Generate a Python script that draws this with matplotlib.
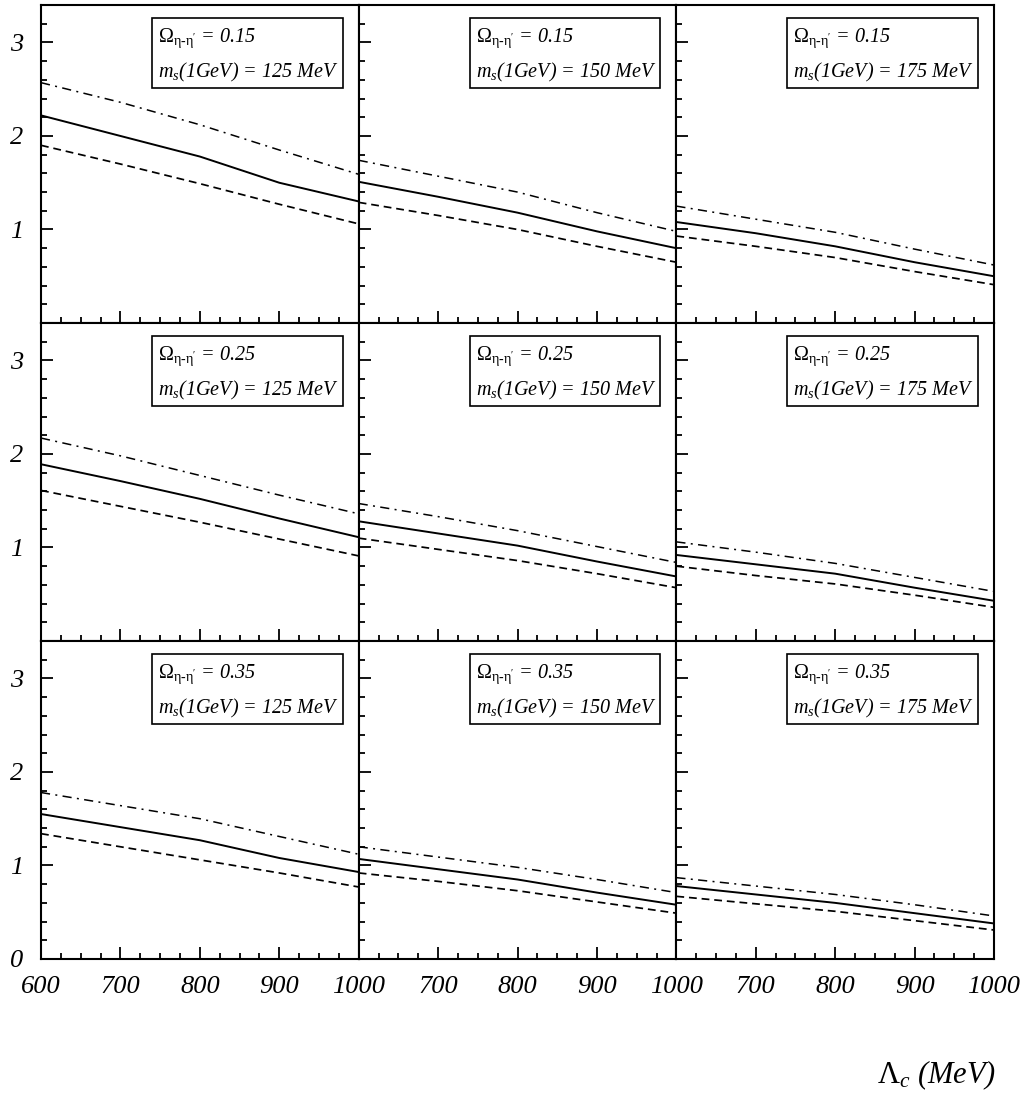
import numpy as np
import matplotlib
matplotlib.use("Agg")
import matplotlib.pyplot as plt
from matplotlib.patches import Rectangle
from matplotlib.ticker import MultipleLocator, FixedLocator

# Lambda_c grid (MeV)
lam=[600,700,800,900,1000]
omegas=["0.15","0.25","0.35"]
ms_vals=["125","150","175"]

# rows: omega 0.15/0.25/0.35, cols: m_s 125/150/175
solid=[
	[[2.22,2.00,1.78,1.50,1.30],[1.51,1.35,1.18,0.98,0.80],[1.08,0.96,0.82,0.65,0.50]],
	[[1.89,1.71,1.52,1.31,1.11],[1.28,1.15,1.02,0.85,0.69],[0.92,0.82,0.72,0.57,0.43]],
	[[1.55,1.41,1.27,1.08,0.93],[1.07,0.96,0.85,0.71,0.58],[0.78,0.69,0.60,0.49,0.38]],
]
dashdot=[
	[[2.57,2.36,2.12,1.85,1.59],[1.74,1.57,1.40,1.18,0.98],[1.25,1.11,0.97,0.79,0.62]],
	[[2.17,1.98,1.77,1.56,1.36],[1.47,1.33,1.18,1.01,0.84],[1.06,0.95,0.83,0.68,0.53]],
	[[1.78,1.64,1.50,1.31,1.12],[1.20,1.09,0.98,0.85,0.71],[0.87,0.78,0.69,0.58,0.46]],
]
dashed=[
	[[1.90,1.70,1.49,1.27,1.06],[1.29,1.15,1.00,0.82,0.65],[0.93,0.82,0.70,0.55,0.41]],
	[[1.61,1.44,1.27,1.09,0.91],[1.10,0.98,0.86,0.72,0.57],[0.80,0.70,0.61,0.49,0.36]],
	[[1.34,1.20,1.06,0.92,0.77],[0.92,0.83,0.73,0.61,0.49],[0.67,0.59,0.51,0.41,0.31]],
]

plt.rcParams['font.family']='Liberation Serif'
plt.rcParams['mathtext.fontset']='custom'
plt.rcParams['mathtext.rm']='Liberation Serif'
plt.rcParams['mathtext.it']='Liberation Serif:italic'
plt.rcParams['mathtext.bf']='Liberation Serif:bold'

fig,axes=plt.subplots(3,3,figsize=(10.25,10.93),dpi=100)
fig.subplots_adjust(left=0.040,right=0.9698,top=0.9954,bottom=0.1226,hspace=0,wspace=0)

for i in range(3):
	for j in range(3):
		ax=axes[i][j]
		ax.plot(lam,solid[i][j],color='black',lw=1.4)
		ax.plot(lam,dashdot[i][j],color='black',lw=1.1,linestyle=(0,(6,3.5,1.3,3.5)))
		ax.plot(lam,dashed[i][j],color='black',lw=1.25,linestyle=(0,(4.5,2.8)))
		ax.set_xlim(600,1000)
		ax.set_ylim(0,3.4)
		for s in ax.spines.values():
			s.set_linewidth(1.5)
		ax.xaxis.set_major_locator(FixedLocator([600,700,800,900,1000]))
		ax.xaxis.set_minor_locator(MultipleLocator(25))
		ax.yaxis.set_major_locator(FixedLocator([0,1,2,3]))
		ax.yaxis.set_minor_locator(MultipleLocator(0.2))
		ax.tick_params(which='both',direction='in',top=False,right=False,width=1.3,labelsize=19)
		ax.tick_params(which='major',length=8.5)
		ax.tick_params(which='minor',length=4.5)
		ax.tick_params(axis='x',pad=12)
		ax.tick_params(axis='y',pad=13)
		if i==2:
			if j==0:
				ax.set_xticklabels(['600','700','800','900','1000'])
			else:
				ax.set_xticklabels(['','700','800','900','1000'])
		else:
			ax.set_xticklabels([])
		if j==0:
			if i==2:
				ax.set_yticklabels(['0','1','2','3'])
			else:
				ax.set_yticklabels(['','1','2','3'])
		else:
			ax.set_yticklabels([])
		for lab in ax.get_xticklabels()+ax.get_yticklabels():
			lab.set_fontstyle('italic')
		# label box
		ax.add_patch(Rectangle((0.349,0.739),0.601,0.220,transform=ax.transAxes,fill=False,lw=1.2,edgecolor='black',zorder=5))
		ax.text(0.368,0.895,r"$\Omega_{\mathrm{\eta}\text{-}\mathrm{\eta}'}$ = "+omegas[i],transform=ax.transAxes,
			fontsize=14.5,fontstyle='italic',va='center',ha='left')
		ax.text(0.368,0.788,r"$m_s$(1GeV) = "+ms_vals[j]+" MeV",transform=ax.transAxes,
			fontsize=14.5,fontstyle='italic',va='center',ha='left')

fig.text(0.914,0.0165,r"$\Lambda_c$ (MeV)",fontsize=22,fontstyle='italic',ha='center',va='center')

plt.savefig("out.png",dpi=100)
